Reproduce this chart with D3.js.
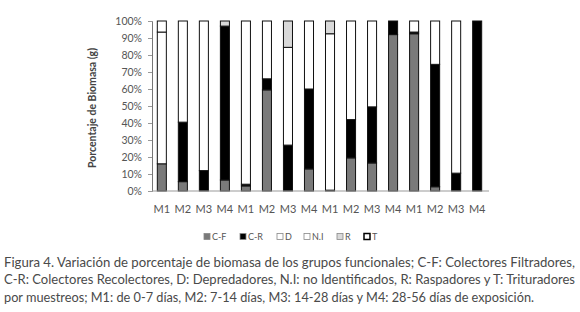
<!DOCTYPE html>
<html>
<head>
<meta charset="utf-8">
<script src="https://cdn.jsdelivr.net/npm/d3@7"></script>
<style>
  body { margin: 0; background: #fff; }
  svg { display: block; }
</style>
</head>
<body>
<div id="chart"></div>
<script>
// data (percent of biomass per sampling)
const samples = ["M1","M2","M3","M4","M1","M2","M3","M4","M1","M2","M3","M4","M1","M2","M3","M4"];
const groups = ["C-F", "C-R", "D", "N.I", "R", "T"];
const cf = [16, 5.5, 0, 6.5, 3, 59.5, 0, 13, 0, 19.5, 16.5, 92, 92.5, 2.5, 0, 0];
const cr = [0, 35, 12, 90.5, 1, 6.5, 27, 47, 0.5, 22.5, 33, 8, 1, 72, 10.5, 100];
const dep = [77.5, 0, 0, 0, 0, 0, 0, 0, 0, 0, 0, 0, 0, 0, 0, 0];
const ni = [0, 0, 0, 0, 0, 0, 57.5, 0, 92, 0, 0, 0, 0, 0, 0, 0];
const rasp = [0, 0, 0, 3, 0, 0, 15.5, 0, 7.5, 0, 0, 0, 0, 0, 0, 0];
const trit = [6.5, 59.5, 88, 0, 96, 34, 0, 40, 0, 58, 50.5, 0, 6.5, 25.5, 89.5, 0];
const yTicks = [0, 10, 20, 30, 40, 50, 60, 70, 80, 90, 100];
const captionLines = [
  "Figura 4. Variación de porcentaje de biomasa de los grupos funcionales; C-F: Colectores Filtradores,",
  "C-R: Colectores Recolectores, D: Depredadores, N.I: no Identificados, R: Raspadores y T: Trituradores",
  "por muestreos; M1: de 0-7 días, M2: 7-14 días, M3: 14-28 días y M4: 28-56 días de exposición."
];

const width = 580, height = 312;
const margin = {t: 21, l: 152, r: 91, b: 121};

const rows = samples.map((s, i) => ({
  key: i, label: s,
  "C-F": cf[i], "C-R": cr[i], "D": dep[i], "N.I": ni[i], "R": rasp[i], "T": trit[i]
}));

const colors = d3.scaleOrdinal()
  .domain(groups)
  .range(["#7a7a7a", "#000000", "#ffffff", "#ffffff", "#d9d9d9", "#ffffff"]);

const svg = d3.select("#chart").append("svg")
  .attr("width", width)
  .attr("height", height)
  .attr("viewBox", [0, 0, width, height]);

const x = d3.scaleBand()
  .domain(rows.map(d => d.key))
  .range([margin.l - 1, width - margin.r - 1])
  .paddingInner(0.57)
  .paddingOuter(0.3);

const y = d3.scaleLinear()
  .domain([0, 100])
  .range([height - margin.b - 0, margin.t]);

const series = d3.stack().keys(groups)(rows);

//bars
svg.append("g").selectAll("g")
  .data(series)
  .join("g")
  .attr("fill", d => colors(d.key))
  .selectAll("rect")
  .data(d => d.filter(p => p[1] - p[0] > 0))
  .join("rect")
  .attr("x", d => x(d.data.key))
  .attr("y", d => y(d[1]))
  .attr("width", x.bandwidth())
  .attr("height", d => y(d[0]) - y(d[1]))
  .attr("stroke", "#111")
  .attr("stroke-width", 1);

//Y axis
const yAxis = d3.axisLeft(y)
  .tickValues(yTicks)
  .tickSize(4)
  .tickPadding(6)
  .tickFormat(d => d + "%");
const yg = svg.append("g")
  .attr("transform", `translate(${margin.l}, 0)`)
  .call(yAxis);
yg.select(".domain").attr("stroke", "#777");
yg.selectAll(".tick line").attr("stroke", "#999");
yg.selectAll("text")
  .attr("fill", "#555")
  .style("font-family", "Lato, sans-serif")
  .style("font-size", "10.5px");

//X axis
const xAxis = d3.axisBottom(x)
  .tickSize(0)
  .tickPadding(14)
  .tickFormat(k => samples[k]);
const xg = svg.append("g")
  .attr("transform", `translate(0, ${height - margin.b})`)
  .call(xAxis);
xg.select(".domain").attr("stroke", "#999").attr("d", `M${margin.l},0H${width - margin.r}`);
xg.selectAll("text")
  .attr("fill", "#555")
  .style("font-family", "Lato, sans-serif")
  .style("font-size", "11px");

//Y label
svg.append("text")
  .attr("transform", `translate(96, ${(margin.t + height - margin.b) / 2 + 2}) rotate(-90)`)
  .attr("text-anchor", "middle")
  .attr("fill", "#444")
  .style("font-family", "Lato, sans-serif")
  .style("font-size", "10.5px")
  .style("font-weight", "bold")
  .text("Porcentaje de Biomasa (g)");

//legend
const legendX = [204, 240, 277, 304, 337, 364];
const lg = svg.append("g").selectAll("g")
  .data(groups)
  .join("g")
  .attr("transform", (d, i) => `translate(${legendX[i]}, 237)`);
lg.append("rect")
  .attr("x", 0).attr("y", -3.5)
  .attr("width", 6).attr("height", 6)
  .attr("fill", d => colors(d))
  .attr("stroke", d => d === "T" ? "#000" : "#888")
  .attr("stroke-width", d => d === "T" ? 1.5 : 0.8);
lg.append("text")
  .attr("x", 8).attr("y", 3)
  .attr("fill", "#555")
  .style("font-family", "Lato, sans-serif")
  .style("font-size", "9px")
  .text(d => d);

//caption
svg.append("g").selectAll("text")
  .data(captionLines)
  .join("text")
  .attr("x", 4)
  .attr("y", (d, i) => 267 + i * 17.3)
  .attr("fill", "#4a4a4a")
  .attr("textLength", (d, i) => i < 2 ? 571 : 530)
  .attr("lengthAdjust", "spacingAndGlyphs")
  .style("font-family", "Lato, sans-serif")
  .style("font-size", "12.5px")
  .text(d => d);
</script>
</body>
</html>
